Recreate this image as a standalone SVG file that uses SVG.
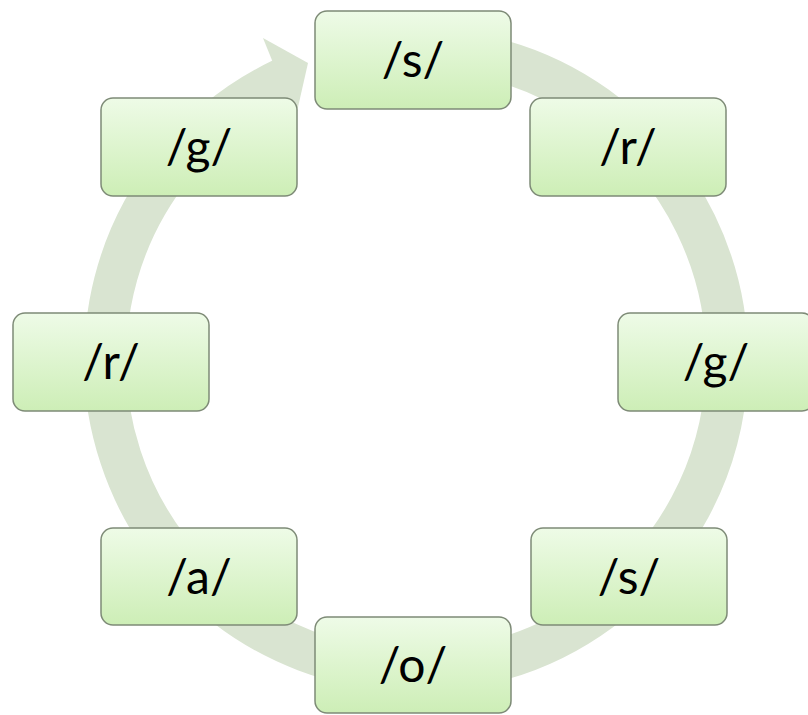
<svg xmlns="http://www.w3.org/2000/svg" width="808" height="715" viewBox="0 0 808 715">
<defs>
<linearGradient id="boxFill" x1="0" y1="0" x2="0" y2="1">
<stop offset="0" stop-color="#eefbe7"/>
<stop offset="1" stop-color="#cdeeb6"/>
</linearGradient>
</defs>
<style>
.box{fill:url(#boxFill);stroke:#7e8b77;stroke-width:1.5}
.lbl{font-family:Lato,"Open Sans","Liberation Sans",sans-serif;font-size:48px;fill:#000;text-anchor:middle}
.ring{fill:none;stroke:#d9e4d1;stroke-width:42}
.head{fill:#d9e4d1}
</style>
<rect width="808" height="715" fill="#fff"/>
<g id="connectors">
<path class="ring" d="M 470 53.7 A 311 311 0 1 1 282.1 79.3"/>
<polygon class="head" points="263,38 308,63 296,116 280,80"/>
</g>
<g id="n1"><rect class="box" x="315" y="11" width="196" height="98" rx="12"/><text class="lbl" x="413" y="77">/s/</text></g>
<g id="n2"><rect class="box" x="530" y="98" width="196" height="98" rx="12"/><text class="lbl" x="628" y="164">/r/</text></g>
<g id="n3"><rect class="box" x="618" y="313" width="196" height="98" rx="12"/><text class="lbl" x="716" y="379">/g/</text></g>
<g id="n4"><rect class="box" x="531" y="528" width="196" height="97" rx="12"/><text class="lbl" x="629" y="594">/s/</text></g>
<g id="n5"><rect class="box" x="315" y="617" width="196" height="96" rx="12"/><text class="lbl" x="413" y="682">/o/</text></g>
<g id="n6"><rect class="box" x="101" y="528" width="196" height="97" rx="12"/><text class="lbl" x="199" y="594">/a/</text></g>
<g id="n7"><rect class="box" x="13" y="313" width="196" height="98" rx="12"/><text class="lbl" x="111" y="379">/r/</text></g>
<g id="n8"><rect class="box" x="101" y="98" width="196" height="98" rx="12"/><text class="lbl" x="199" y="164">/g/</text></g>
</svg>
